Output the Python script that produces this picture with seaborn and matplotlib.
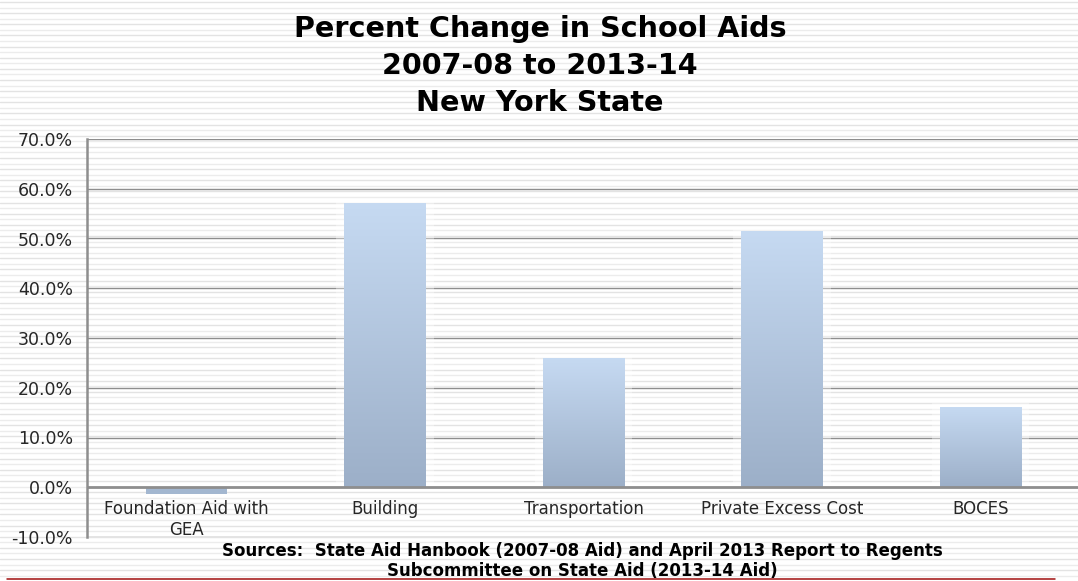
import numpy as np
import pandas as pd
import matplotlib.pyplot as plt
import seaborn as sns
from matplotlib.colors import LinearSegmentedColormap

# ── Data ───────────────────────────────────────────────────
categories = ['Foundation Aid with\nGEA', 'Building', 'Transportation',
              'Private Excess Cost', 'BOCES']
pct_change = [-1.3, 57.1, 26.0, 51.5, 16.1]
y_ticks    = [-10, 0, 10, 20, 30, 40, 50, 60, 70]

title_lines = ['Percent Change in School Aids', '2007-08 to 2013-14', 'New York State']
source_lines = ['Sources:  State Aid Hanbook (2007-08 Aid) and April 2013 Report to Regents',
                'Subcommittee on State Aid (2013-14 Aid)']

df = pd.DataFrame({'aid': categories, 'pct': pct_change})

# ── Figure + striped background ────────────────────────────
W, H = 1078, 581
sns.set_style('white')
plt.rcParams['font.family'] = ['DejaVu Sans']
fig = plt.figure(figsize=(W / 100, H / 100), dpi=100)
fig.patch.set_facecolor('white')

bg = fig.add_axes([0, 0, 1, 1], zorder=-5)
bg.set_xlim(0, W)
bg.set_ylim(H, 0)
bg.axis('off')
stripe_y = np.arange(2.0, H, 5.57)
for k, y in enumerate(stripe_y):
    bg.axhline(y, color='#e3e3e3' if k % 2 == 0 else '#ececec', lw=1.0)
bg.plot([7, 1055], [579, 579], color='#a01010', lw=1.1)

# ── Main axes ──────────────────────────────────────────────
left, right, top, bottom = 87, 1080, 139, 537
ax = fig.add_axes([left / W, 1 - bottom / H, (right - left) / W, (bottom - top) / H])
ax.patch.set_alpha(0)

sns.barplot(data=df, x='aid', y='pct', ax=ax, width=0.41, color='#a9bdd6',
            edgecolor='none', zorder=3)

# gradient fill on each bar
cmap = LinearSegmentedColormap.from_list('bar', ['#9cafc8', '#c6daf2'])
grad = np.linspace(0, 1, 256).reshape(-1, 1)
for p in ax.patches:
    x0, y0 = p.get_x(), p.get_y()
    w, h = p.get_width(), p.get_height()
    ylo, yhi = min(y0, y0 + h), max(y0, y0 + h)
    if yhi - ylo < 3:
        p.set_facecolor('#a3b7d0')
        continue
    im = ax.imshow(grad, cmap=cmap, aspect='auto', origin='lower',
                   extent=[x0, x0 + w, ylo, yhi], zorder=3.5)
    im.set_clip_path(p)
    # soft white halo behind bar
    ax.add_patch(plt.Rectangle((x0 - 0.04, ylo), w + 0.08, yhi - ylo + 0.8,
                               color='white', alpha=0.35, zorder=2, lw=0))

ax.set_xlim(-0.5, len(categories) - 0.5)
ax.set_ylim(-10, 70)
ax.set_yticks(y_ticks)
ax.set_yticklabels([f'{v:.1f}%' for v in y_ticks], fontsize=12.5, color='#262626')
for v in y_ticks:
    ax.axhline(v, color='#8e8e8e', lw=1.0 if v else 2.0, zorder=1 if v else 4)

ax.set_xticks(np.arange(0.5, len(categories) - 0.5, 1))
ax.set_xticklabels([])
ax.tick_params(axis='x', direction='out', length=5, width=1, color='#8e8e8e')
ax.tick_params(axis='y', direction='out', length=5, width=1.0, color='#8e8e8e', pad=5)
for i, lab in enumerate(categories):
    ax.text(i, -2.6, lab, ha='center', va='top', fontsize=12, color='#262626',
            linespacing=1.2)

ax.set_xlabel('')
ax.set_ylabel('')
for s in ['top', 'right', 'bottom']:
    ax.spines[s].set_visible(False)
ax.spines['left'].set_color('#8e8e8e')
ax.spines['left'].set_linewidth(1.8)

# ── Titles and source note ─────────────────────────────────
for y, line in zip([37, 74, 111], title_lines):
    fig.text(540 / W, 1 - y / H, line, ha='center', va='baseline',
             fontsize=20.6, fontweight='bold', color='black')
for y, line in zip([556, 576], source_lines):
    fig.text(582 / W, 1 - y / H, line, ha='center', va='baseline',
             fontsize=12, fontweight='bold', color='black')

plt.savefig('out.png', dpi=100)
